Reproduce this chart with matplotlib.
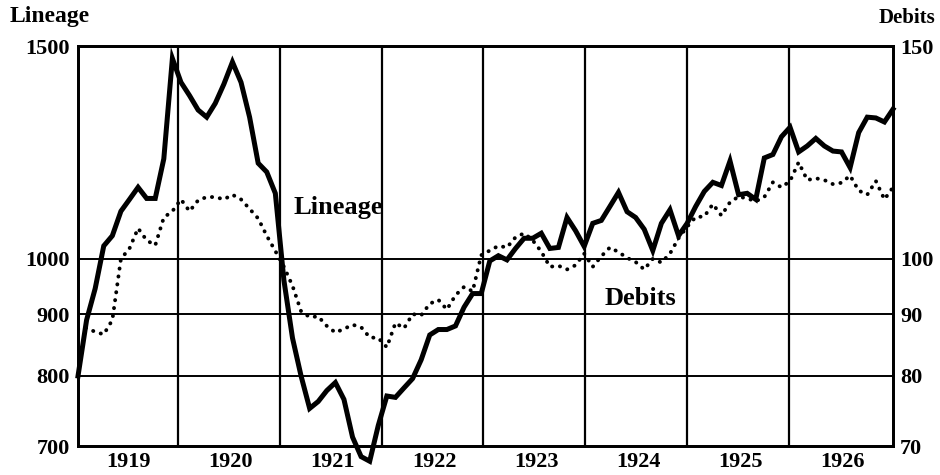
import numpy as np
import matplotlib
matplotlib.use("Agg")
import matplotlib.pyplot as plt

# monthly values, Jan 1919 .. Dec 1926
lineage = [800, 890, 945, 1025, 1045, 1095, 1120, 1146, 1122, 1122, 1210, 1465,
           1400, 1365, 1328, 1310, 1345, 1395, 1455, 1400, 1310, 1200, 1180, 1133,
           960, 860, 800, 752, 762, 778, 790, 765, 712, 686, 680, 728,
           770, 768, 782, 796, 825, 865, 874, 874, 880, 912, 936, 936,
           996, 1006, 998, 1020, 1040, 1040, 1050, 1020, 1022, 1082, 1055, 1024,
           1070, 1076, 1105, 1135, 1094, 1082, 1058, 1016, 1070, 1098, 1045, 1070,
           1105, 1137, 1157, 1150, 1205, 1130, 1133, 1120, 1212, 1220, 1262, 1285,
           1226, 1240, 1258, 1240, 1228, 1226, 1190, 1272, 1310, 1308, 1298, 1330]

debits = [87.5, 87.7, 87.0, 86.6, 89.0, 100.0, 102.0, 106.0, 103.6, 102.6, 108.2, 109.5,
          112.0, 109.5, 111.8, 112.5, 112.5, 112.0, 113.0, 112.0, 110.0, 108.0, 104.5, 101.5,
          98.5, 95.0, 90.5, 89.5, 89.6, 88.0, 86.9, 87.5, 88.2, 87.8, 86.1, 86.0,
          84.5, 88.5, 87.6, 90.0, 89.8, 91.8, 92.5, 90.8, 93.3, 94.8, 94.0, 100.7,
          101.6, 102.5, 102.2, 104.2, 105.0, 103.6, 101.4, 98.5, 98.7, 98.0, 98.8, 101.0,
          98.5, 100.5, 102.2, 101.3, 100.2, 99.4, 98.0, 100.0, 99.3, 101.0, 104.0, 106.3,
          108.3, 108.4, 111.0, 108.6, 111.4, 112.6, 112.2, 111.6, 112.5, 115.7, 114.6, 116.0,
          120.2, 116.2, 116.6, 116.2, 115.3, 115.6, 117.2, 113.9, 113.0, 116.0, 112.0, 114.6]

years = [1919, 1920, 1921, 1922, 1923, 1924, 1925, 1926]
left_ticks = [700, 800, 900, 1000, 1500]
right_ticks = [70, 80, 90, 100, 150]

# the original spreads the 96 months edge to edge over the 8 year columns
t = 1919 + np.arange(len(lineage)) * 8.0 / (len(lineage) - 1)

plt.rcParams["font.family"] = ["Liberation Serif", "DejaVu Serif"]

fig = plt.figure(figsize=(9.4, 4.75), dpi=100)
ax = fig.add_axes([0.083, 0.061, 0.867, 0.842])
ax2 = ax.twinx()

ax.set_yscale("log")
ax2.set_yscale("log")
ax.set_ylim(700, 1500)
ax2.set_ylim(70, 150)
ax.set_xlim(1919, 1927)

for y in years[1:]:
    ax.axvline(y - 0.02, color="black", lw=1.6, zorder=1)
for v in [800, 900, 1000]:
    ax.axhline(v, color="black", lw=1.4, zorder=1)

ax.plot(t, lineage, color="black", lw=3.6, solid_joinstyle="miter", zorder=3,
        clip_on=False)
ax2.plot(t, debits, color="black", lw=2.8, linestyle=(0, (0.05, 2.0)),
         dash_capstyle="round", zorder=3)

ax.yaxis.set_minor_locator(matplotlib.ticker.NullLocator())
ax2.yaxis.set_minor_locator(matplotlib.ticker.NullLocator())
ax.set_yticks(left_ticks)
ax.set_yticklabels([str(v) for v in left_ticks])
ax2.set_yticks(right_ticks)
ax2.set_yticklabels([str(v) for v in right_ticks])
ax.set_xticks([y + 0.5 for y in years])
ax.set_xticklabels([str(y) for y in years])

ax.tick_params(axis="y", length=0, pad=6, labelsize=16)
ax.tick_params(axis="x", length=0, pad=4, labelsize=16)
ax2.tick_params(axis="y", length=0, pad=5, labelsize=16)
for lab in ax.get_yticklabels() + ax.get_xticklabels() + ax2.get_yticklabels():
    lab.set_fontweight("bold")

for a in (ax, ax2):
    for s in a.spines.values():
        s.set_linewidth(2.0)

ax.text(1921.55, 1103, "Lineage", fontsize=19, fontweight="bold", ha="center", va="center")
ax2.text(1924.52, 92.7, "Debits", fontsize=19, fontweight="bold", ha="center", va="center")

fig.text(0.053, 0.966, "Lineage", fontsize=17, fontweight="bold", ha="center", va="center")
fig.text(0.965, 0.962, "Debits", fontsize=15, fontweight="bold", ha="center", va="center")

fig.savefig("out.png", dpi=100, facecolor="white")
